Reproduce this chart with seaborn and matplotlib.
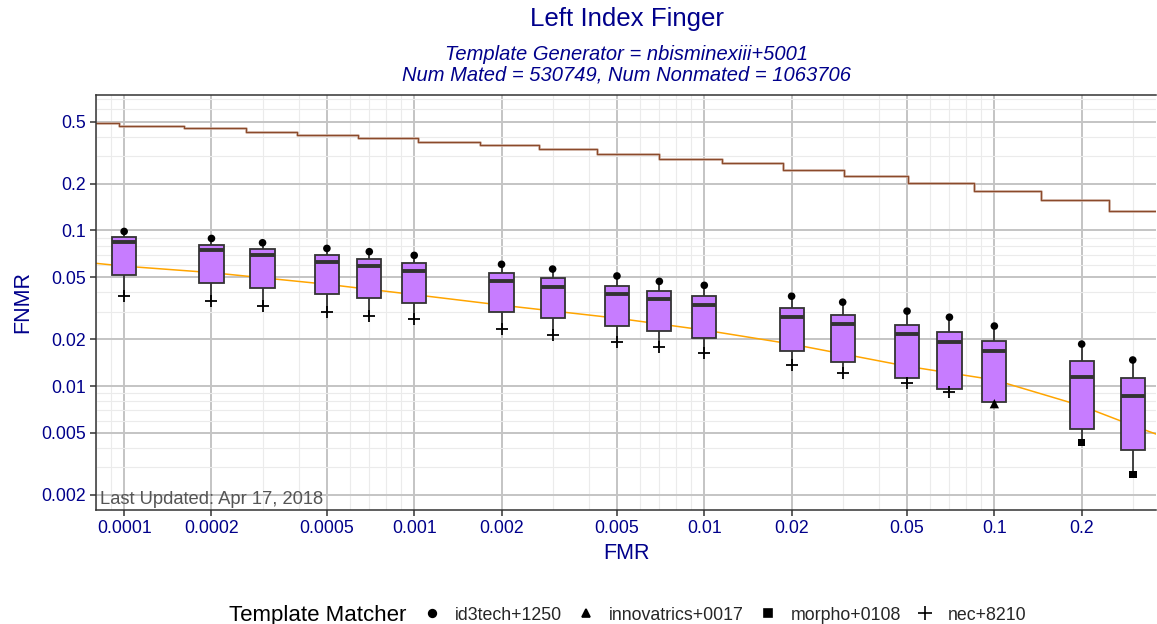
import numpy as np
import pandas as pd
import matplotlib
matplotlib.use("Agg")
import matplotlib.pyplot as plt
from matplotlib.lines import Line2D
from matplotlib.ticker import FixedLocator, FixedFormatter, LogLocator, NullFormatter
import seaborn as sns

# ---- data ----
fmr = [0.0001, 0.0002, 0.0003, 0.0005, 0.0007, 0.001, 0.002, 0.003, 0.005,
       0.007, 0.01, 0.02, 0.03, 0.05, 0.07, 0.1, 0.2, 0.3]

# worst matcher at each FMR (top whisker), always id3tech+1250
fnmr_worst = [0.0986, 0.0889, 0.0834, 0.0767, 0.0731, 0.0692, 0.0606, 0.0565, 0.0510,
              0.0471, 0.0444, 0.0378, 0.0346, 0.0303, 0.0277, 0.0243, 0.0186, 0.0147]
fnmr_q3 = [0.0912, 0.0811, 0.0756, 0.0695, 0.0655, 0.0615, 0.0536, 0.0493, 0.0440,
           0.0409, 0.0378, 0.0318, 0.0287, 0.0247, 0.0222, 0.0196, 0.0145, 0.0113]
fnmr_median = [0.0847, 0.0753, 0.0695, 0.0627, 0.0590, 0.0549, 0.0473, 0.0434, 0.0389,
               0.0361, 0.0331, 0.0278, 0.0251, 0.0217, 0.0192, 0.0167, 0.0115, 0.0086]
fnmr_q1 = [0.0517, 0.0460, 0.0427, 0.0391, 0.0367, 0.0342, 0.0300, 0.0272, 0.0243,
           0.0225, 0.0205, 0.0168, 0.0143, 0.0113, 0.0096, 0.0079, 0.0053, 0.0039]
# best matcher at each FMR (bottom whisker)
fnmr_best = [0.0380, 0.0351, 0.0327, 0.0300, 0.0280, 0.0268, 0.0234, 0.0213, 0.0192,
             0.0179, 0.0164, 0.0137, 0.0122, 0.0104, 0.0091, 0.0077, 0.00434, 0.0027]
best_matcher = ["nec+8210", "nec+8210", "nec+8210", "nec+8210", "nec+8210", "nec+8210",
                "nec+8210", "nec+8210", "nec+8210", "nec+8210", "nec+8210", "nec+8210",
                "nec+8210", "nec+8210", "nec+8210", "innovatrics+0017", "morpho+0108",
                "morpho+0108"]
worst_matcher = "id3tech+1250"
matchers = ["id3tech+1250", "innovatrics+0017", "morpho+0108", "nec+8210"]

# template generator DET (orange curve)
curve_fmr = [8e-5, 0.0001, 0.0002, 0.0005, 0.001, 0.002, 0.005, 0.01, 0.02,
             0.05, 0.1, 0.2, 0.3, 0.362]
curve_fnmr = [0.0615, 0.0590, 0.0536, 0.0451, 0.0387, 0.0331, 0.0273, 0.0229, 0.0186,
              0.0134, 0.01095, 0.00745, 0.00557, 0.0049]

# step line (brown)
step_fmr = [8e-5, 9.6e-5, 1.61e-4, 2.64e-4, 3.94e-4, 6.38e-4, 1.027e-3, 1.685e-3,
            2.69e-3, 4.28e-3, 6.98e-3, 0.01153, 0.01862, 0.0303, 0.0502, 0.0851,
            0.1452, 0.2493, 0.362]
step_fnmr = [0.490, 0.473, 0.453, 0.433, 0.414, 0.393, 0.372, 0.354, 0.332, 0.312,
             0.290, 0.270, 0.246, 0.225, 0.202, 0.180, 0.157, 0.133, 0.133]

x_ticks = [0.0001, 0.0002, 0.0005, 0.001, 0.002, 0.005, 0.01, 0.02, 0.05, 0.1, 0.2]
x_tick_labels = ["0.0001", "0.0002", "0.0005", "0.001", "0.002", "0.005", "0.01",
                 "0.02", "0.05", "0.1", "0.2"]
y_ticks = [0.002, 0.005, 0.01, 0.02, 0.05, 0.1, 0.2, 0.5]
y_tick_labels = ["0.002", "0.005", "0.01", "0.02", "0.05", "0.1", "0.2", "0.5"]

title = "Left Index Finger"
subtitle1 = "Template Generator = nbisminexiii+5001"
subtitle2 = "Num Mated = 530749, Num Nonmated = 1063706"
updated = "Last Updated: Apr 17, 2018"

# ---- styling ----
NAVY = "#00008B"
BOX_FILL = "#C77CFF"
DARK = "#333333"
sns.set_theme(style="white")
plt.rcParams["font.family"] = ["Liberation Sans", "DejaVu Sans"]

fig, ax = plt.subplots(figsize=(11.57, 6.24), dpi=100)
fig.subplots_adjust(left=0.083, right=0.9995, bottom=0.183, top=0.848)
ax.set_xscale("log")
ax.set_yscale("log")

# grid
ax.set_axisbelow(True)
ax.xaxis.set_minor_locator(LogLocator(base=10, subs=np.arange(1, 10)))
ax.yaxis.set_minor_locator(LogLocator(base=10, subs=np.arange(1, 10)))
ax.grid(which="minor", color="#EBEBEB", linewidth=0.8)
ax.grid(which="major", color="#C4C4C4", linewidth=1.4)

# lines
sns.lineplot(x=step_fmr, y=step_fnmr, drawstyle="steps-post", color="#C9A696",
             linewidth=1.8, estimator=None, ax=ax, zorder=2)
sns.lineplot(x=step_fmr, y=step_fnmr, drawstyle="steps-post", color="#8B4A2B",
             linewidth=0.8, estimator=None, ax=ax, zorder=2)
sns.lineplot(x=curve_fmr, y=curve_fnmr, color="#FFA500", linewidth=1.1,
             estimator=None, ax=ax, zorder=2)

# boxes
box_df = pd.DataFrame({
    "FMR": np.repeat(fmr, 5),
    "FNMR": np.column_stack([fnmr_best, fnmr_q1, fnmr_median,
                             fnmr_q3, fnmr_worst]).ravel(),
})
sns.boxplot(data=box_df, x="FMR", y="FNMR", native_scale=True, orient="x",
            width=0.57, whis=(0, 100), color=BOX_FILL, saturation=1,
            linecolor=DARK, linewidth=1.3,
            medianprops={"linewidth": 2.8, "color": DARK},
            capprops={"linewidth": 0}, ax=ax, zorder=3)

# matcher points
markers = {"id3tech+1250": "o", "innovatrics+0017": "^", "morpho+0108": "s", "nec+8210": "+"}
sizes = {"id3tech+1250": 30, "innovatrics+0017": 45, "morpho+0108": 30, "nec+8210": 80}
sns.scatterplot(x=fmr, y=fnmr_worst, marker=markers[worst_matcher], s=sizes[worst_matcher],
                color="black", edgecolor="none", ax=ax, zorder=5)
pts = pd.DataFrame({"FMR": fmr, "FNMR": fnmr_best, "matcher": best_matcher})
for m in matchers[1:]:
    sub = pts[pts["matcher"] == m]
    if markers[m] == "+":
        sns.scatterplot(x=sub["FMR"], y=sub["FNMR"], marker="+", s=sizes[m],
                        color="black", linewidth=1.3, ax=ax, zorder=5)
    else:
        sns.scatterplot(x=sub["FMR"], y=sub["FNMR"], marker=markers[m], s=sizes[m],
                        color="black", edgecolor="none", ax=ax, zorder=5)

# axes
ax.set_xlim(8e-5, 0.362)
ax.set_ylim(0.0016, 0.745)
ax.xaxis.set_major_locator(FixedLocator(x_ticks))
ax.xaxis.set_major_formatter(FixedFormatter(x_tick_labels))
ax.yaxis.set_major_locator(FixedLocator(y_ticks))
ax.yaxis.set_major_formatter(FixedFormatter(y_tick_labels))
ax.xaxis.set_minor_formatter(NullFormatter())
ax.yaxis.set_minor_formatter(NullFormatter())
ax.tick_params(which="major", length=4.5, width=1.1, color=DARK, labelsize=12.7,
               labelcolor=NAVY, pad=2.5, bottom=True, left=True)
ax.tick_params(which="minor", length=0)
ax.set_xlabel("FMR", fontsize=15.5, color=NAVY, labelpad=5)
ax.set_ylabel("FNMR", fontsize=15.5, color=NAVY, labelpad=6)
for side in ["left", "bottom", "top"]:
    ax.spines[side].set_color(DARK)
    ax.spines[side].set_linewidth(1.1)
ax.spines["right"].set_visible(False)

ax.text(0.004, 0.004, updated, transform=ax.transAxes, fontsize=13.2,
        color="#555555", ha="left", va="bottom")

# titles
cx = (96 + 1157) / 2 / 1157
fig.text(cx, 1 - 19 / 624, title, ha="center", va="center", fontsize=18.6, color=NAVY)
fig.text(cx, 1 - 54 / 624, subtitle1, ha="center", va="center", fontsize=14.5,
         color=NAVY, style="italic")
fig.text(cx, 1 - 75 / 624, subtitle2, ha="center", va="center", fontsize=14.5,
         color=NAVY, style="italic")

# legend
fig.text(229 / 1157, 9 / 624, "Template Matcher", ha="left", va="center",
         fontsize=16, color="black")
handles = [Line2D([], [], linestyle="none", marker=markers[m], color="black",
                  markersize=5.5 if markers[m] != "+" else 9.5, markeredgewidth=1.2)
           for m in matchers]
fig.legend(handles, matchers, loc="center left", bbox_to_anchor=(423 / 1157, 9 / 624),
           ncol=4, frameon=False, fontsize=12.8, handlelength=1.0, handletextpad=0.79,
           columnspacing=0.85, borderpad=0, borderaxespad=0)

fig.savefig("out.png", dpi=100)
